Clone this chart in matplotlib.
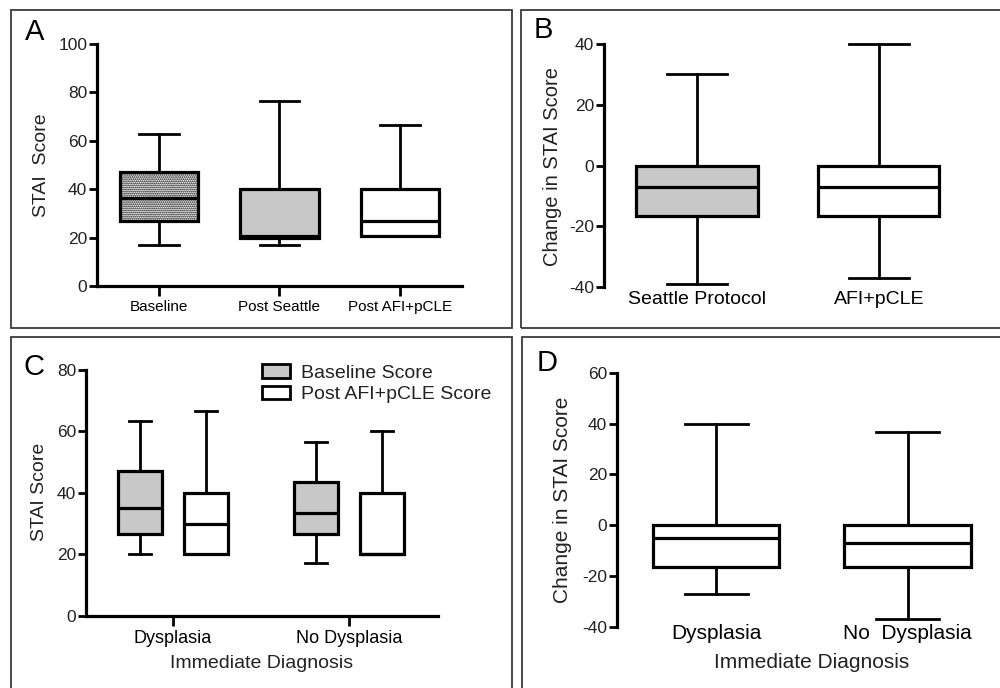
"""
STAI score box plots, four panels (A-D).
"""
import matplotlib
matplotlib.use("Agg")
import matplotlib.pyplot as plt
from matplotlib.patches import Rectangle, Patch

plt.rcParams["font.family"] = ["Liberation Sans", "DejaVu Sans"]
plt.rcParams["axes.unicode_minus"] = False
plt.rcParams["hatch.color"] = "#505050"
plt.rcParams["hatch.linewidth"] = 0.9

GREY = "#c8c8c8"

# ---- panel A: STAI score by time point
A_labels = ["Baseline", "Post Seattle", "Post AFI+pCLE"]
A_whislo = [17, 17, 20.5]
A_q1     = [27, 20, 20.5]
A_med    = [36.5, 20.5, 27]
A_q3     = [47, 40, 40]
A_whishi = [63, 76.5, 66.5]

# ---- panel B: change in STAI score by procedure
B_labels = ["Seattle Protocol", "AFI+pCLE"]
B_whislo = [-39, -37]
B_q1     = [-16.5, -16.5]
B_med    = [-7, -7]
B_q3     = [0, 0]
B_whishi = [30, 40]

# ---- panel C: baseline vs post score by diagnosis
C_groups = ["Dysplasia", "No Dysplasia"]
C_series = ["Baseline Score", "Post AFI+pCLE Score"]
C_base_whislo = [20, 17]
C_base_q1     = [26.5, 26.5]
C_base_med    = [35, 33.5]
C_base_q3     = [47, 43.5]
C_base_whishi = [63.5, 56.5]
C_post_whislo = [20, 20]
C_post_q1     = [20, 20]
C_post_med    = [30, 20]
C_post_q3     = [40, 40]
C_post_whishi = [66.5, 60]

# ---- panel D: change in STAI score by diagnosis
D_labels = ["Dysplasia", "No  Dysplasia"]
D_whislo = [-27, -37]
D_q1     = [-16.5, -16.5]
D_med    = [-5, -7]
D_q3     = [0, 0]
D_whishi = [40, 36.5]


def stats(lo, q1, med, q3, hi):
    return [dict(whislo=a, q1=b, med=c, q3=d, whishi=e, fliers=[])
            for a, b, c, d, e in zip(lo, q1, med, q3, hi)]


def draw_boxes(ax, st, pos, width, faces, hatches=None):
    art = ax.bxp(st, positions=pos, widths=width, patch_artist=True,
                 showfliers=False, manage_ticks=False,
                 boxprops=dict(edgecolor="black", lw=2.3),
                 medianprops=dict(color="black", lw=2.3),
                 whiskerprops=dict(color="black", lw=2.0),
                 capprops=dict(color="black", lw=2.0))
    for i, b in enumerate(art["boxes"]):
        b.set_facecolor(faces[i])
        if hatches and hatches[i]:
            b.set_hatch(hatches[i])
    for k in art:
        for a in art[k]:
            a.set_clip_on(False)
    return art


def style(ax, xaxis=True):
    for s in ["top", "right"]:
        ax.spines[s].set_visible(False)
    ax.spines["left"].set_linewidth(2.3)
    ax.spines["bottom"].set_linewidth(2.3)
    ax.tick_params(axis="y", length=6, width=2.0, pad=1, labelsize=12.5,
                   colors="black", labelcolor="#222222")
    if xaxis:
        ax.tick_params(axis="x", length=7, width=2.0, pad=3)
    else:
        ax.spines["bottom"].set_visible(False)
        ax.tick_params(axis="x", length=0)
    ax.patch.set_alpha(0)


fig = plt.figure(figsize=(10, 6.88), dpi=100)
fig.patch.set_facecolor("white")

# panel frames (pixel coords -> figure fraction)
W, H = 1000, 688
for x0, y0, x1, y1 in [(11, 10, 512, 328), (521, 10, 1010, 328),
                       (11, 337, 512, 700), (522, 337, 1010, 700)]:
    fig.patches.append(Rectangle((x0 / W, 1 - y1 / H), (x1 - x0) / W,
                                 (y1 - y0) / H, transform=fig.transFigure,
                                 fill=False, edgecolor="#3a3a3a", lw=1.3))

# ---- A
axA = fig.add_axes([0.097, 1 - 286 / H, 0.365, 242 / H])
draw_boxes(axA, stats(A_whislo, A_q1, A_med, A_q3, A_whishi), [1, 2, 3], 0.65,
           ["white", GREY, "white"], ["........", None, None])
axA.set_xlim(0.485, 3.515)
axA.set_ylim(0, 100)
axA.set_yticks([0, 20, 40, 60, 80, 100])
axA.set_xticks([1, 2, 3])
axA.set_xticklabels(A_labels, fontsize=11)
style(axA)
fig.text(42 / W, 1 - 165 / H, "STAI  Score", rotation=90, ha="center",
         va="center", fontsize=14, color="#222222")

# ---- B
axB = fig.add_axes([0.604, 1 - 287 / H, 0.386, 243 / H])
draw_boxes(axB, stats(B_whislo, B_q1, B_med, B_q3, B_whishi), [1, 2], 0.665,
           [GREY, "white"])
axB.set_xlim(0.489, 2.61)
axB.set_ylim(-40, 40)
axB.set_yticks([-40, -20, 0, 20, 40])
axB.set_xticks([1, 2])
axB.set_xticklabels(B_labels, fontsize=14)
style(axB, xaxis=False)
axB.tick_params(axis="x", pad=3)
fig.text(552 / W, 1 - 167 / H, "Change in STAI Score", rotation=90,
         ha="center", va="center", fontsize=14.5, color="#222222")

# ---- C
axC = fig.add_axes([0.086, 1 - 615.7 / H, 0.352, 245.7 / H])
off = 0.19
pos = [1, 2]
draw_boxes(axC, stats(C_base_whislo, C_base_q1, C_base_med, C_base_q3,
                      C_base_whishi), [p - off for p in pos], 0.25, [GREY, GREY])
draw_boxes(axC, stats(C_post_whislo, C_post_q1, C_post_med, C_post_q3,
                      C_post_whishi), [p + off for p in pos], 0.25,
           ["white", "white"])
axC.set_xlim(0.506, 2.506)
axC.set_ylim(0, 80)
axC.set_yticks([0, 20, 40, 60, 80])
axC.set_xticks(pos)
axC.set_xticklabels(C_groups, fontsize=13)
style(axC)
fig.text(40 / W, 1 - 492 / H, "STAI Score", rotation=90, ha="center",
         va="center", fontsize=14, color="#222222")
fig.text(262 / W, 1 - 663 / H, "Immediate Diagnosis", ha="center",
         va="center", fontsize=14, color="#222222")
handles = [Patch(facecolor=GREY, edgecolor="black", lw=2.0),
           Patch(facecolor="white", edgecolor="black", lw=2.0)]
fig.legend(handles, C_series, loc="upper left",
           bbox_to_anchor=(262 / W, 1 - 364 / H), frameon=False, fontsize=14,
           borderpad=0, borderaxespad=0, handlelength=1.45, handleheight=0.72,
           handletextpad=0.55, labelspacing=0.2, labelcolor="#222222")

# ---- D
axD = fig.add_axes([0.617, 1 - 626.7 / H, 0.373, 254 / H])
draw_boxes(axD, stats(D_whislo, D_q1, D_med, D_q3, D_whishi), [1, 2], 0.66,
           ["white", "white"])
axD.set_xlim(0.482, 2.43)
axD.set_ylim(-40, 60)
axD.set_yticks([-40, -20, 0, 20, 40, 60])
axD.set_xticks([1, 2])
axD.set_xticklabels(D_labels, fontsize=15)
style(axD, xaxis=False)
axD.tick_params(axis="x", pad=-2)
fig.text(563 / W, 1 - 500 / H, "Change in STAI Score", rotation=90,
         ha="center", va="center", fontsize=15, color="#222222")
fig.text(812 / W, 1 - 663 / H, "Immediate Diagnosis", ha="center",
         va="center", fontsize=15, color="#222222")

# panel letters
for lbl, x, y in [("A", 35, 32), ("B", 543, 30), ("C", 34, 367), ("D", 547, 363)]:
    fig.text(x / W, 1 - y / H, lbl, ha="center", va="center", fontsize=21)

fig.savefig("out.png", dpi=100)
